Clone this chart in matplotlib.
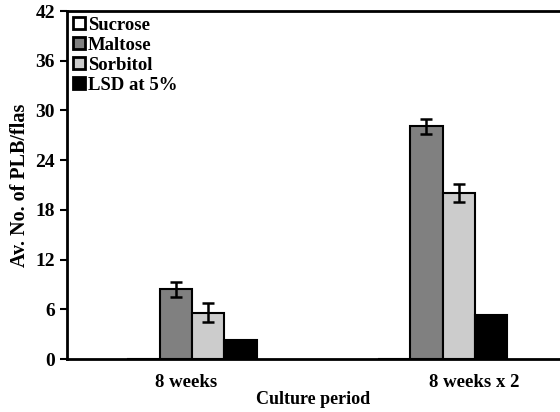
import matplotlib.pyplot as plt
import numpy as np

# culture periods and PLB counts per carbon source
periods = ["8 weeks", "8 weeks x 2"]
sucrose = [0.0, 0.0]
maltose = [8.4, 28.1]
maltose_err = [0.9, 0.9]
sorbitol = [5.6, 20.0]
sorbitol_err = [1.1, 1.1]
lsd = [2.25, 5.3]

plt.rcParams['font.family'] = ['Liberation Serif', 'DejaVu Serif']
plt.rcParams['font.weight'] = 'bold'
plt.rcParams['axes.labelweight'] = 'bold'

fig = plt.figure(figsize=(5.6, 4.12), dpi=100)
ax = fig.add_axes([0.1196, 0.1286, 0.8804, 0.8447])

x = np.arange(len(periods))
w = 0.1293
edge = dict(edgecolor='black', linewidth=1.5)
errkw = dict(ecolor='black', elinewidth=1.8, capsize=4, capthick=1.8)

ax.bar(x - 1.5 * w, sucrose, w, color='white', label='Sucrose', **edge)
ax.bar(x - 0.5 * w, maltose, w, color='#808080', label='Maltose',
       yerr=maltose_err, error_kw=errkw, **edge)
ax.bar(x + 0.5 * w, sorbitol, w, color='#cccccc', label='Sorbitol',
       yerr=sorbitol_err, error_kw=errkw, **edge)
ax.bar(x + 1.5 * w, lsd, w, color='black', label='LSD at 5%', **edge)

ax.set_xlim(-0.499, 1.469)
ax.set_ylim(0, 42)
ax.set_yticks(np.arange(0, 43, 6))
ax.set_xticks([-0.024, 1.126])
ax.set_xticklabels(periods)
ax.tick_params(axis='x', length=0, pad=11, labelsize=13.5)
ax.tick_params(axis='y', length=5, width=1.5, direction='out', labelsize=14)

for s in ['left', 'bottom', 'top']:
    ax.spines[s].set_linewidth(2)
ax.spines['right'].set_visible(False)

ax.set_xlabel('Culture period', fontsize=13, labelpad=0)
ax.set_ylabel('Av. No. of PLB/flas', fontsize=14.5, labelpad=4)

leg = ax.legend(loc='upper left', frameon=False, fontsize=13.5,
                handlelength=0.65, handleheight=0.65, handletextpad=0.15,
                labelspacing=0.16, borderaxespad=0.2, borderpad=0.1)
for h in leg.legend_handles:
    h.set_linewidth(2)

plt.savefig('out.png', dpi=100)
